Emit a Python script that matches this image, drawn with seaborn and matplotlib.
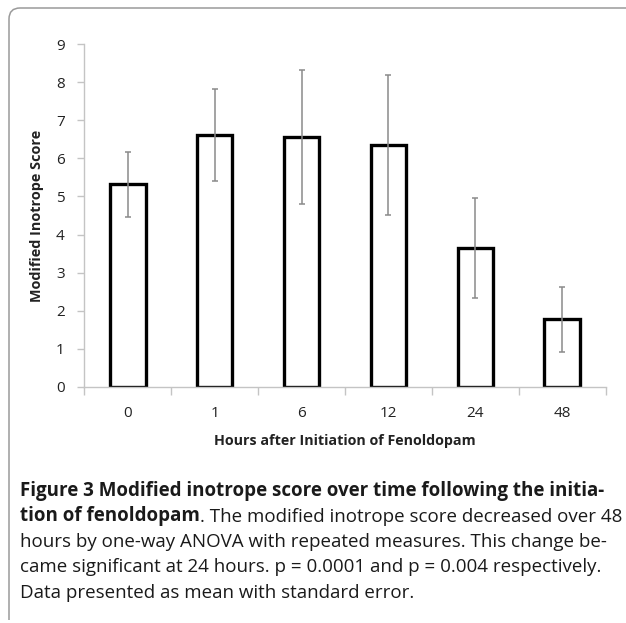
import numpy as np
import pandas as pd
import matplotlib
matplotlib.use("Agg")
import matplotlib.pyplot as plt
import seaborn as sns
from matplotlib.path import Path
from matplotlib.patches import PathPatch

# values
hours = ["0", "1", "6", "12", "24", "48"]
score_mean = [5.32, 6.62, 6.56, 6.35, 3.65, 1.77]
score_se = [0.86, 1.21, 1.77, 1.83, 1.31, 0.85]

W, H = 626, 623
sns.set_theme(style="white")
plt.rcParams["font.family"] = ["Open Sans", "DejaVu Sans"]

df = pd.DataFrame({"hours": hours, "score": score_mean})

fig = plt.figure(figsize=(W / 100, H / 100), dpi=100)
ax = fig.add_axes([84.3 / W, 1 - 386.7 / H, 521.4 / W, (386.7 - 44.3) / H])

sns.barplot(data=df, x="hours", y="score", order=hours, ax=ax,
            color="white", edgecolor="black", linewidth=2.4, width=0.41,
            errorbar=None)

# standard error bars
xpos = np.arange(len(hours))
eb = ax.errorbar(xpos, score_mean, yerr=score_se, fmt="none",
                 ecolor="#8a8a8a", elinewidth=1.1, capsize=2.5, capthick=1.1)
for cap in eb[1]:
    cap.set_color("#404040")

ax.set_ylim(0, 9)
ax.set_xlim(-0.5, len(hours) - 0.5)
ax.set_yticks(range(0, 10))

axis_grey = "#c4c4c4"
for side in ["top", "right"]:
    ax.spines[side].set_visible(False)
for side in ["left", "bottom"]:
    ax.spines[side].set_color(axis_grey)
    ax.spines[side].set_linewidth(1.0)

ax.set_xticks(np.arange(-0.5, len(hours)), minor=True)
ax.tick_params(axis="x", which="minor", direction="out", length=6,
               color=axis_grey, width=1.0)
ax.tick_params(axis="x", which="major", length=0, pad=14, labelsize=11,
               labelcolor="#222222")
ax.tick_params(axis="y", direction="out", length=5, color=axis_grey,
               width=1.0, pad=9, labelsize=11, labelcolor="#222222")
ax.tick_params(left=True, bottom=True, which="both")

ax.set_xlabel("Hours after Initiation of Fenoldopam", fontsize=10.3,
              fontweight="bold", color="#222222", labelpad=9)
ax.set_ylabel("Modified Inotrope Score", fontsize=10.4, fontweight="bold",
              color="#222222", labelpad=9)

# rounded frame around figure + caption
r = 11
x0, y0 = 9, 8
verts = [(x0, H - 3), (x0, y0 + r), (x0, y0), (x0 + r, y0), (W, y0)]
codes = [Path.MOVETO, Path.LINETO, Path.CURVE3, Path.CURVE3, Path.LINETO]
verts = [(vx / W, 1 - vy / H) for vx, vy in verts]
fig.add_artist(PathPatch(Path(verts, codes), transform=fig.transFigure,
                         fill=False, edgecolor="#9a9a9a", linewidth=1.1))

# caption
cap_size = 13.5
cap_color = "#1a1a1a"
left = 20 / W
line_y = [491, 516.5, 542, 567.5, 593]
renderer = fig.canvas.get_renderer()

fig.text(left, 1 - line_y[0] / H,
         "Figure 3 Modified inotrope score over time following the initia-",
         fontsize=cap_size, fontweight="bold", color=cap_color, va="center")
t_bold = fig.text(left, 1 - line_y[1] / H, "tion of fenoldopam",
                  fontsize=cap_size, fontweight="bold", color=cap_color,
                  va="center")
bb = t_bold.get_window_extent(renderer)
fig.text(bb.x1 / W, 1 - line_y[1] / H,
         ". The modified inotrope score decreased over 48",
         fontsize=cap_size, color=cap_color, va="center")
rest = [
    "hours by one-way ANOVA with repeated measures. This change be-",
    "came significant at 24 hours. p = 0.0001 and p = 0.004 respectively.",
    "Data presented as mean with standard error.",
]
for txt, y in zip(rest, line_y[2:]):
    fig.text(left, 1 - y / H, txt, fontsize=cap_size, color=cap_color,
             va="center")

fig.savefig("out.png", dpi=100)
